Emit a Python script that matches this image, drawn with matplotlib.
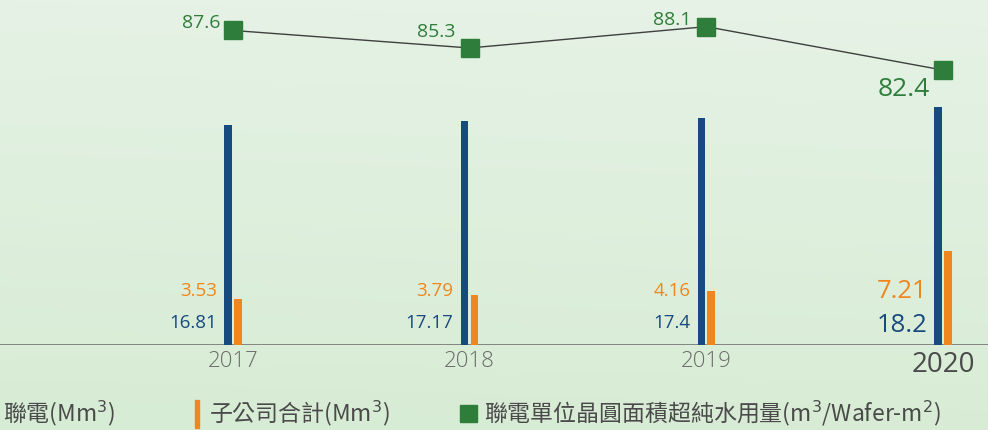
"""UMC ultra-pure water usage chart: bars for volumes, line for per-wafer usage."""

import matplotlib

matplotlib.use("Agg")
import matplotlib.pyplot as plt
import numpy as np
from matplotlib.patches import Rectangle

years = ["2017", "2018", "2019", "2020"]
umc_volume = [16.81, 17.17, 17.4, 18.2]
subsidiary_volume = [3.53, 3.79, 4.16, 7.21]
water_per_wafer = [87.6, 85.3, 88.1, 82.4]

BLUE = "#174a7e"
ORANGE = "#f0861e"
GREEN = "#2e7d3a"
GRAY = "#6b6b6b"
DARK = "#4a4a4a"
NUM_FONT = ["Open Sans", "DejaVu Sans"]
CJK_FONT = ["Noto Sans CJK TC", "DejaVu Sans"]

W, H = 988, 430
fig = plt.figure(figsize=(W / 100, H / 100), dpi=100)

# soft green background
bg = fig.add_axes([0, 0, 1, 1], zorder=-5)
top = np.array([229, 242, 229]) / 255
bottom = np.array([215, 236, 212]) / 255
t = np.linspace(0, 1, 200)[:, None, None]
shade = top * (1 - t) + bottom * t
horiz = np.linspace(0, 1, 300)[None, :, None]
grad = shade * (1 - 0.03 * horiz) + 0.03 * horiz
bg.imshow(np.clip(grad, 0, 1) * np.ones((200, 300, 3)), aspect="auto",
          extent=(0, 1, 0, 1))
bg.set_axis_off()

base_px = 345
ax = fig.add_axes([0, (H - base_px) / H, 1, base_px / H])
ax.patch.set_alpha(0)
x = np.arange(len(years))
ax.set_xlim(-0.984, 3.19)
ax.set_ylim(0, 26.4)
bw = 0.0325
ax.bar(x - 0.021, umc_volume, width=bw, color=BLUE, zorder=3)
ax.bar(x + 0.021, subsidiary_volume, width=bw, color=ORANGE, zorder=3)
ax.axhline(0, color="#7d7d7d", lw=1.3, zorder=2)
for side in ax.spines.values():
    side.set_visible(False)
ax.set_yticks([])
ax.tick_params(axis="x", length=0, pad=4)
ax.set_xticks(x, years)
for i, lab in enumerate(ax.get_xticklabels()):
    last = i == len(years) - 1
    lab.set_family(NUM_FONT)
    lab.set_fontsize(20 if last else 16)
    lab.set_color(DARK if last else GRAY)
    lab.set_fontweight("medium" if last else "light")

for i in range(len(years)):
    last = i == len(years) - 1
    size = 18.5 if last else 13.5
    ax.annotate(f"{subsidiary_volume[i]:g}", (x[i], 0), xytext=(-11.5, 34 if last else 35.5),
                textcoords="offset points", ha="right", va="baseline",
                color=ORANGE, fontsize=size, family=NUM_FONT)
    ax.annotate(f"{umc_volume[i]:g}", (x[i], 0), xytext=(-11.5, 9.5 if last else 12),
                textcoords="offset points", ha="right", va="baseline",
                color=BLUE, fontsize=size, family=NUM_FONT)

ax2 = ax.twinx()
ax2.set_ylim(46.3, 91.6)
ax2.set_axis_off()
ax2.plot(x, water_per_wafer, color="#3f3f3f", lw=1.0, marker="s", ms=12.3,
         mfc=GREEN, mec=GREEN, zorder=4)
line_offsets = [(-9, 1.5), (-10, 8), (-10.5, 1), (-9.5, -18.5)]
for i, val in enumerate(water_per_wafer):
    last = i == len(years) - 1
    ax2.annotate(f"{val:g}", (x[i], val), xytext=line_offsets[i],
                 textcoords="offset points", ha="right", va="baseline",
                 color=GREEN, fontsize=19 if last else 14, family=NUM_FONT)

# legend row
leg_y = (H - 421.5) / H
leg_kw = dict(family=CJK_FONT, fontsize=16.5, color=DARK, va="baseline", ha="left")
fig.text(3 / W, leg_y, "聯電(Mm$^{3}$)", **leg_kw)
fig.patches.append(Rectangle((195 / W, (H - 428) / H), 4 / W, 28 / H,
                             transform=fig.transFigure, color=ORANGE))
fig.text(209 / W, leg_y, "子公司合計(Mm$^{3}$)", **leg_kw)
fig.patches.append(Rectangle((460 / W, (H - 422) / H), 17 / W, 17 / H,
                             transform=fig.transFigure, color=GREEN))
fig.text(484 / W, leg_y, "聯電單位晶圓面積超純水用量(m$^{3}$/Wafer-m$^{2}$)", **leg_kw)

fig.savefig("out.png", dpi=100)
